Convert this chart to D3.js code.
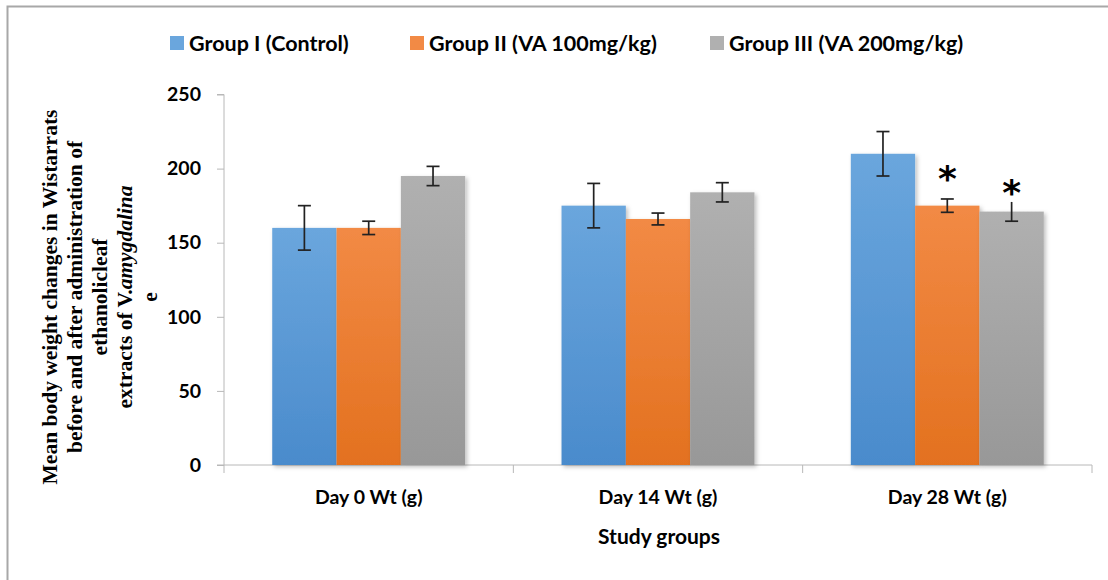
<!DOCTYPE html>
<html><head><meta charset="utf-8">
<script src="https://cdn.jsdelivr.net/npm/d3@7"></script>
<style>body{margin:0;background:#fff}svg{display:block}</style>
</head><body><svg id="c" width="1108" height="580"></svg>
<script>
const categories = ["Day 0 Wt (g)", "Day 14 Wt (g)", "Day 28 Wt (g)"];
const seriesNames = ["Group I (Control)", "Group II (VA 100mg/kg)", "Group III (VA 200mg/kg)"];
const groupI   = [160, 175, 210];
const groupII  = [160, 166, 175];
const groupIII = [195, 184, 171];
const errI   = [15, 15, 15];
const errII  = [4.5, 4, 4.5];
const errIII = [6.5, 6.5, 6.5];
const starFlags = [[false,false,false],[false,false,true],[false,false,true]]; // [series][category]
const yTicks = [0, 50, 100, 150, 200, 250];
const yTitleLines = ["Mean body weight changes in Wistarrats", "before and after administration of", "ethanolicleaf", "extracts of V.amygdalina", "e"];
const xTitle = "Study groups";

(function(){
const colors = [["#6aa6dd","#4a8bcc"],["#f28a45","#e3711f"],["#b0b0b0","#989898"]];
const svg = d3.select("#c");
const defs = svg.append("defs");
colors.forEach((c,i)=>{
  const g = defs.append("linearGradient").attr("id","g"+i).attr("x1",0).attr("y1",0).attr("x2",0).attr("y2",1);
  g.append("stop").attr("offset","0%").attr("stop-color",c[0]);
  g.append("stop").attr("offset","100%").attr("stop-color",c[1]);
});
const f = defs.append("filter").attr("id","sh").attr("x","-10%").attr("y","-10%").attr("width","130%").attr("height","130%");
f.append("feDropShadow").attr("dx",2).attr("dy",2).attr("stdDeviation",2).attr("flood-color","#000").attr("flood-opacity",0.25);

svg.append("path").attr("d","M7.5,580 V6.5 H1108").attr("fill","none").attr("stroke","#a8a8a8").attr("stroke-width",2);

const pl=224, pr=1092, pt=94.5, pb=465;
const x0 = d3.scaleBand().domain(categories).range([pl,pr]).paddingInner(0.333).paddingOuter(0.1667);
const x1 = d3.scaleBand().domain(d3.range(3)).range([0,x0.bandwidth()]);
const y = d3.scaleLinear().domain([0,250]).range([pb,pt]);

const data = [groupI,groupII,groupIII];
const errs = [errI,errII,errIII];
const font = "Lato, 'Open Sans', sans-serif";

const ya = svg.append("g").attr("transform",`translate(${pl},0)`)
  .call(d3.axisLeft(y).tickValues(yTicks).tickSize(7).tickPadding(16));
ya.select(".domain").attr("stroke","#b8b8b8").attr("d",`M-7,${pt}H0V${pb}`);
ya.selectAll(".tick line").attr("stroke","#b8b8b8");
ya.selectAll(".tick text").attr("font-family",font).attr("font-weight","bold").attr("font-size",19.5).attr("fill","#000");

const step = x0.step();
const xb = [pl, ...categories.slice(1).map(c=>x0(c)-step*x0.paddingInner()/2), pr];
svg.append("line").attr("x1",pl-7).attr("x2",pr).attr("y1",pb).attr("y2",pb).attr("stroke","#b8b8b8");
svg.selectAll(".xt").data(xb).enter().append("line").attr("x1",d=>d).attr("x2",d=>d).attr("y1",pb).attr("y2",pb+8).attr("stroke","#b8b8b8");
svg.selectAll(".xl").data(categories).enter().append("text")
  .attr("x",d=>x0(d)+x0.bandwidth()/2).attr("y",504).attr("text-anchor","middle")
  .attr("font-family",font).attr("font-weight","bold").attr("font-size",19.5).text(d=>d);
svg.append("text").attr("x",659).attr("y",544).attr("text-anchor","middle")
  .attr("font-family",font).attr("font-weight","bold").attr("font-size",21).text(xTitle);

data.forEach((vals,s)=>{
  svg.append("g").selectAll("rect").data(vals).enter().append("rect")
    .attr("x",(d,i)=>x0(categories[i])+x1(s)).attr("width",x1.bandwidth())
    .attr("y",d=>y(d)).attr("height",d=>pb-y(d))
    .attr("fill",`url(#g${s})`).attr("filter","url(#sh)");
});
data.forEach((vals,s)=>{
  vals.forEach((v,i)=>{
    const cx = x0(categories[i])+x1(s)+x1.bandwidth()/2;
    const e = errs[s][i];
    const g = svg.append("g").attr("stroke","#222").attr("stroke-width",1.7);
    g.append("line").attr("x1",cx).attr("x2",cx).attr("y1",y(v+e)).attr("y2",y(v-e));
    g.append("line").attr("x1",cx-6.5).attr("x2",cx+6.5).attr("y1",y(v-e)).attr("y2",y(v-e));
    if(!(starFlags[s][i] && s===2)) g.append("line").attr("x1",cx-6.5).attr("x2",cx+6.5).attr("y1",y(v+e)).attr("y2",y(v+e));
    if(starFlags[s][i]){
      svg.append("text").attr("x",cx).attr("y",y(v+e)+(s===2?-14:-25)+17).attr("text-anchor","middle")
        .attr("font-family","'DejaVu Sans', sans-serif").attr("font-weight","bold").attr("font-size",36).text("*");
    }
  });
});

const lx = [170, 410, 710];
seriesNames.forEach((n,s)=>{
  svg.append("rect").attr("x",lx[s]).attr("y",36).attr("width",14).attr("height",14).attr("fill",colors[s][0]);
  svg.append("text").attr("x",lx[s]+19).attr("y",51).attr("font-family",font).attr("font-weight","bold").attr("font-size",21.5).text(n);
});

const yt = svg.append("text").attr("transform","translate(50,297) rotate(-90)").attr("text-anchor","middle")
  .attr("font-family","'Liberation Serif', serif").attr("font-weight","bold").attr("font-size",21.5);
yTitleLines.forEach((l,i)=>{
  if(l.startsWith("extracts of V.")){
    yt.append("tspan").attr("x",0).attr("y",i*25+7).text("extracts of V.");
    yt.append("tspan").attr("font-style","italic").text(l.slice(14));
  } else yt.append("tspan").attr("x",0).attr("y",i*25+7).text(l);
});
})();
</script></body></html>
